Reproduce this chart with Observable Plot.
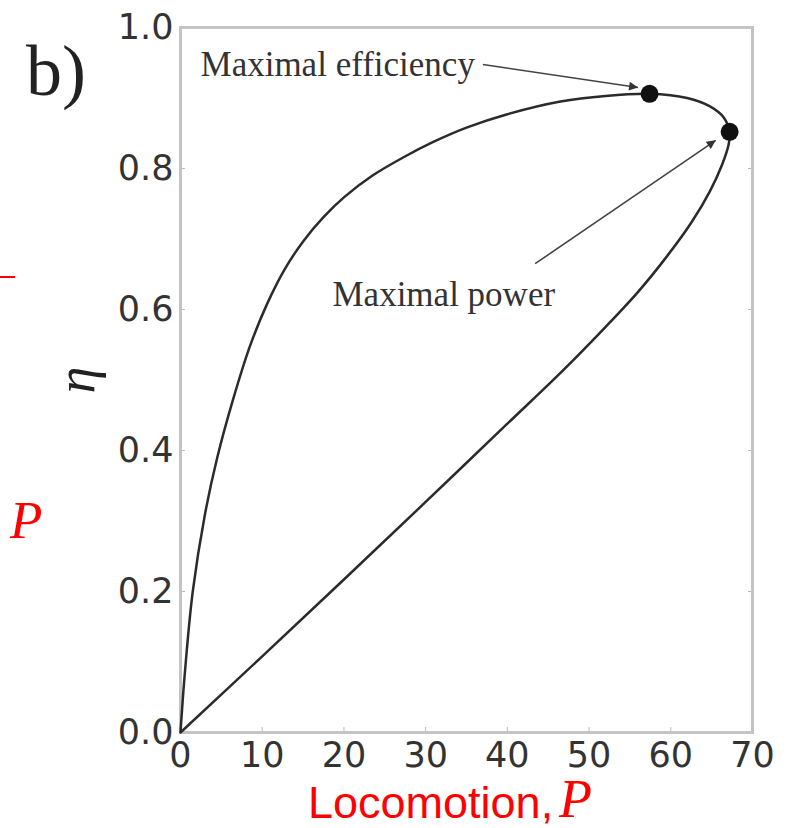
<!DOCTYPE html>
<html><head><meta charset="utf-8">
<script src="https://cdn.jsdelivr.net/npm/d3@7"></script>
<script src="https://cdn.jsdelivr.net/npm/@observablehq/plot@0.6"></script>
<style>
body{margin:0;background:#fff}
#wrap{position:relative;width:802px;height:828px;overflow:hidden;background:#fff}
#chart{position:absolute;left:0;top:0}
.abs{position:absolute;line-height:1;white-space:nowrap}
.xlab{left:308px;top:780px;font-family:"Liberation Sans",sans-serif;font-size:45px;color:#ff0000}
.xlabP{left:559px;top:775px;line-height:0.9;font-family:"Liberation Serif",serif;font-style:italic;font-size:54px;color:#ff0000}
.panel{left:26px;top:35px;font-family:"Liberation Serif",serif;font-size:72px;color:#222}
.sideP{left:10px;top:494px;font-family:"Liberation Serif",serif;font-style:italic;font-size:53px;color:#ff0000}
.sideDash{position:absolute;left:0;top:276px;width:15px;height:2px;background:#ff0000}
.eta{left:76px;top:380px;font-family:"Liberation Serif",serif;font-style:italic;font-size:54px;color:#222;transform:translate(-50%,-50%) rotate(-90deg)}
</style></head><body>
<div id="wrap">
<div id="chart"></div>
<div class="abs xlab">Locomotion,</div>
<div class="abs xlabP">P</div>
<div class="abs panel">b)</div>
<div class="abs sideP">P</div>
<div class="sideDash"></div>
<div class="abs eta">η</div>
</div>
<script>
// Upper branch: from origin up to the maximal-power point
const upperP   = [0, 0.5, 1.5, 3, 4.5, 6.4, 8.5, 10.6, 12.8, 15.1, 17.5, 20, 23.5, 27.3, 31, 35, 40, 46.5, 52, 57.4, 62, 64.8, 66.5, 67.2];
const upperEta = [0, 0.08, 0.20, 0.31, 0.39, 0.471, 0.548, 0.608, 0.658, 0.698, 0.731, 0.759, 0.790, 0.816, 0.838, 0.858, 0.877, 0.895, 0.903, 0.906, 0.900, 0.888, 0.872, 0.852];
// Lower branch: from the maximal-power point back to origin
const lowerP   = [67.1, 66.3, 64.8, 62.5, 59.5, 56, 52, 46.5, 40, 30, 20, 10, 0];
const lowerEta = [0.835, 0.806, 0.768, 0.723, 0.675, 0.625, 0.575, 0.510, 0.438, 0.327, 0.217, 0.108, 0];

// Highlighted points
const pointNames = ["Maximal efficiency", "Maximal power"];
const pointP   = [57.4, 67.2];
const pointEta = [0.906, 0.852];

// Annotation labels and arrows
const noteText = ["Maximal efficiency", "Maximal power"];
const noteP    = [2.45, 18.6];
const noteEta  = [0.9475, 0.621];
const arrowFromP   = [37.0, 43.4];
const arrowFromEta = [0.9475, 0.665];
const arrowToP     = [56.0, 65.5];
const arrowToEta   = [0.915, 0.840];

const xTicks = [0, 10, 20, 30, 40, 50, 60, 70];
const yTicks = [0, 0.2, 0.4, 0.6, 0.8, 1.0];

const loop = [
  ...upperP.map((p, i) => ({P: p, eta: upperEta[i]})),
  ...lowerP.map((p, i) => ({P: p, eta: lowerEta[i]}))
];
const pts = pointNames.map((n, i) => ({name: n, P: pointP[i], eta: pointEta[i]}));
const notes = noteText.map((t, i) => ({text: t, P: noteP[i], eta: noteEta[i]}));
const arrows = arrowFromP.map((p, i) => ({x1: p, y1: arrowFromEta[i], x2: arrowToP[i], y2: arrowToEta[i]}));

const plot = Plot.plot({
  width: 802, height: 780,
  marginLeft: 180, marginRight: 50, marginTop: 27, marginBottom: 48,
  x: {domain: [0, 70]},
  y: {domain: [0, 1]},
  style: {fontFamily: "DejaVu Sans", fontSize: "35px", color: "#333", background: "transparent"},
  marks: [
    Plot.axisX({ticks: xTicks, tickSize: 0, tickPadding: 10, label: null}),
    Plot.axisY({ticks: yTicks, tickSize: 0, tickPadding: 7, tickFormat: d3.format(".1f"), label: null}),
    Plot.axisX({ticks: xTicks, anchor: "bottom", tickSize: -5, tickFormat: () => "", label: null, stroke: "#bbb"}),
    Plot.axisY({ticks: yTicks, anchor: "left", tickSize: -5, tickFormat: () => "", label: null, stroke: "#bbb"}),
    Plot.axisY({ticks: yTicks, anchor: "right", tickSize: -5, tickFormat: () => "", label: null, stroke: "#bbb"}),
    Plot.frame({stroke: "#c4c4c4", strokeWidth: 3}),
    Plot.line(loop, {x: "P", y: "eta", curve: "catmull-rom", stroke: "#2b2b2b", strokeWidth: 2.5}),
    Plot.link(arrows, {x1: "x1", y1: "y1", x2: "x2", y2: "y2", stroke: "#444", strokeWidth: 1.6}),
    Plot.dot(pts, {x: "P", y: "eta", r: 9, fill: "#111", stroke: "none"}),
    Plot.text(notes, {x: "P", y: "eta", text: "text", textAnchor: "start", fontFamily: "Liberation Serif", fontSize: 35, fill: "#333"})
  ]
});

const svg = d3.select(plot);
const defs = svg.append("defs");
defs.append("marker")
  .attr("id", "tri").attr("viewBox", "0 0 10 10")
  .attr("refX", 10).attr("refY", 5)
  .attr("markerWidth", 12).attr("markerHeight", 9)
  .attr("markerUnits", "userSpaceOnUse").attr("orient", "auto")
  .append("path").attr("d", "M0,0L10,5L0,10Z").attr("fill", "#333");
svg.selectAll('g[aria-label="link"] path').attr("marker-end", "url(#tri)");

document.getElementById("chart").appendChild(plot);
</script>
</body></html>
